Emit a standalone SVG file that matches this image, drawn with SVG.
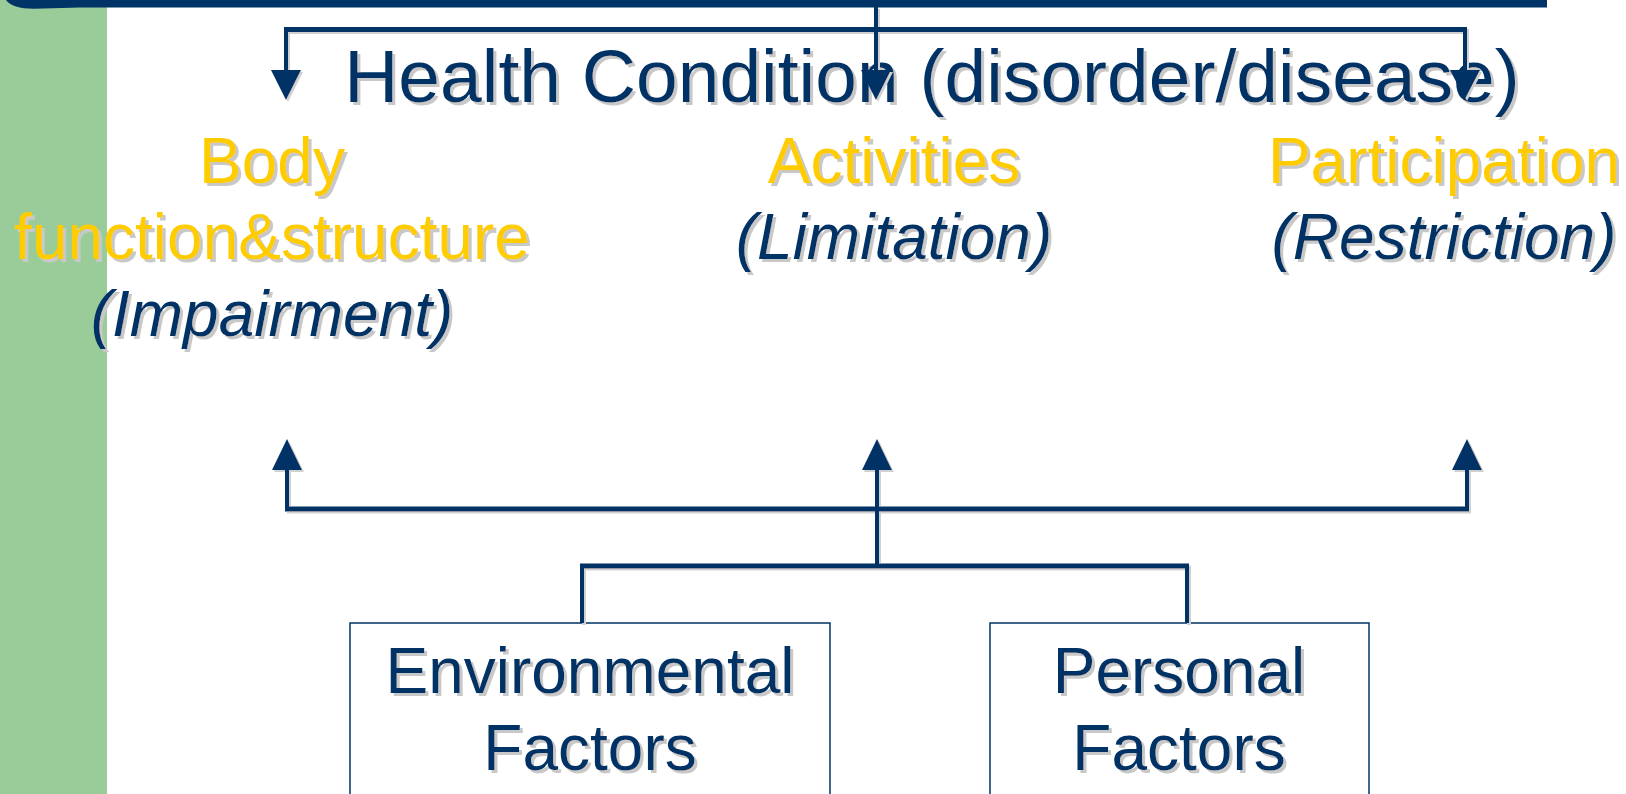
<svg xmlns="http://www.w3.org/2000/svg" width="1626" height="794" viewBox="0 0 1626 794">
  <style>
    .t { font-family: "Liberation Sans", Arial, sans-serif; text-anchor: middle; filter: url(#shadow); }
    .navy { fill: #003366; }
    .gold { fill: #FFCC00; }
    .it { font-style: italic; }
    .f64 { font-size: 64px; }
    .line { stroke: #003366; fill: none; stroke-linecap: butt; }
    .v { stroke-width: 4; }
    .h { stroke-width: 5; }
    .head { fill: #003366; }
    .box { fill: #FFFFFF; stroke: #003366; stroke-width: 1.5; }
  </style>
  <defs>
    <filter id="shadow" x="-5%" y="-20%" width="110%" height="140%">
      <feOffset in="SourceAlpha" dx="3" dy="3" result="off"/>
      <feFlood flood-color="#C8C8C8"/>
      <feComposite in2="off" operator="in" result="sh"/>
      <feMerge>
        <feMergeNode in="sh"/>
        <feMergeNode in="SourceGraphic"/>
      </feMerge>
    </filter>
    <filter id="lineShadow" x="-2%" y="-2%" width="104%" height="104%">
      <feOffset in="SourceAlpha" dx="2" dy="2" result="off"/>
      <feFlood flood-color="#D0D0D0"/>
      <feComposite in2="off" operator="in" result="sh"/>
      <feMerge>
        <feMergeNode in="sh"/>
        <feMergeNode in="SourceGraphic"/>
      </feMerge>
    </filter>
  </defs>

  <rect width="1626" height="794" fill="#FFFFFF"/>

  <!-- side band and header bar -->
  <rect x="0" y="0" width="107" height="794" fill="#99CC99"/>
  <path d="M0,0 H1547 V7.5 H80 L34,8.7 Q12,8.7 6,0 Z" fill="#003366"/>

  <!-- nodes -->
  <g id="health-condition">
    <text class="t navy" x="932" y="102" font-size="75">Health Condition (disorder/disease)</text>
  </g>

  <g id="body-function">
    <text class="t gold f64" x="272" y="183">Body</text>
    <text class="t gold f64" x="272" y="259">function&amp;structure</text>
    <text class="t navy f64 it" x="272" y="336">(Impairment)</text>
  </g>

  <g id="activities">
    <text class="t gold f64" x="894" y="183">Activities</text>
    <text class="t navy f64 it" x="894" y="259">(Limitation)</text>
  </g>

  <g id="participation">
    <text class="t gold f64" x="1444" y="183">Participation</text>
    <text class="t navy f64 it" x="1444" y="259">(Restriction)</text>
  </g>

  <g id="environmental-factors">
    <rect class="box" x="350" y="623" width="480" height="190"/>
    <text class="t navy f64" x="590" y="693">Environmental</text>
    <text class="t navy f64" x="590" y="770">Factors</text>
  </g>

  <g id="personal-factors">
    <rect class="box" x="990" y="623" width="379" height="190"/>
    <text class="t navy f64" x="1179" y="693">Personal</text>
    <text class="t navy f64" x="1179" y="770">Factors</text>
  </g>

  <!-- connectors -->
  <g id="connectors" filter="url(#lineShadow)">
    <!-- from health condition down to the three components -->
    <line class="line v" x1="876" y1="7" x2="876" y2="72"/>
    <line class="line h" x1="284" y1="29.5" x2="1467" y2="29.5"/>
    <line class="line v" x1="286" y1="27" x2="286" y2="72"/>
    <line class="line v" x1="1465" y1="27" x2="1465" y2="72"/>
    <polygon class="head" points="271,70 301,70 286,100"/>
    <polygon class="head" points="861,70 891,70 876,100"/>
    <polygon class="head" points="1450,70 1480,70 1465,99"/>

    <!-- from contextual factors up to the three components -->
    <line class="line v" x1="582" y1="623" x2="582" y2="564"/>
    <line class="line v" x1="1187" y1="623" x2="1187" y2="564"/>
    <line class="line h" x1="580" y1="566" x2="1189" y2="566"/>
    <line class="line v" x1="877" y1="566" x2="877" y2="467"/>
    <line class="line h" x1="285" y1="509" x2="1469" y2="509"/>
    <line class="line v" x1="287" y1="511" x2="287" y2="467"/>
    <line class="line v" x1="1467" y1="511" x2="1467" y2="467"/>
    <polygon class="head" points="272,470 302,470 287,439"/>
    <polygon class="head" points="862,470 892,470 877,439"/>
    <polygon class="head" points="1452,470 1482,470 1467,439"/>
  </g>
</svg>
